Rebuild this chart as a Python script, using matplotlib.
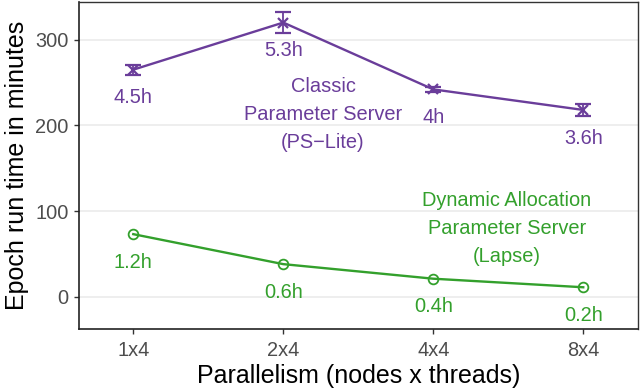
import numpy as np
import matplotlib
matplotlib.use("Agg")
import matplotlib.pyplot as plt

## Data
configs = ["1x4", "2x4", "4x4", "8x4"]
ps_lite = [265, 320, 242, 218]
ps_lite_err = [6, 12, 3, 7]
ps_lite_labels = ["4.5h", "5.3h", "4h", "3.6h"]
lapse = [73, 38, 21, 11]
lapse_labels = ["1.2h", "0.6h", "0.4h", "0.2h"]

purple = "#6a3d9a"
green = "#33a02c"

plt.rcParams["font.family"] = ["Liberation Sans", "DejaVu Sans"]

fig = plt.figure(figsize=(6.4, 3.91), dpi=100)
ax = fig.add_axes([0.1234, 0.1586, 0.8730, 0.8363])

x = np.arange(len(configs))

# Classic PS
ax.errorbar(x, ps_lite, yerr=ps_lite_err, color=purple, lw=1.7,
            marker="x", ms=7.5, mew=1.6, capsize=5.5, capthick=1.3,
            elinewidth=1.3, zorder=3)
# Lapse
ax.plot(x, lapse, color=green, lw=1.7, marker="o", ms=7,
        mfc="none", mew=1.3, zorder=3)

off = 33
fs = 14.4
for xi, v, lab in zip(x, ps_lite, ps_lite_labels):
    ax.text(xi, v - off, lab, color=purple, fontsize=fs,
            ha="center", va="center")
for xi, v, lab in zip(x, lapse, lapse_labels):
    ax.text(xi, v - off, lab, color=green, fontsize=fs,
            ha="center", va="center")

ax.text(1.265, 213, "Classic\nParameter Server\n(PS\u2212Lite)", color=purple,
        fontsize=fs, ha="center", va="center", linespacing=1.6)
ax.text(2.49, 80, "Dynamic Allocation\nParameter Server\n(Lapse)", color=green,
        fontsize=fs, ha="center", va="center", linespacing=1.6)

ax.set_xlim(-0.362, 3.363)
ax.set_ylim(-37.7, 344)
ax.set_xticks(x)
ax.set_xticklabels(configs)
ax.set_yticks([0, 100, 200, 300])

ax.yaxis.grid(True, color="#EBEBEB", lw=1.2)
ax.set_axisbelow(True)

for s in ["top", "right"]:
    ax.spines[s].set_color("#333333")
    ax.spines[s].set_linewidth(1.0)
for s in ["left", "bottom"]:
    ax.spines[s].set_color("#222222")
    ax.spines[s].set_linewidth(1.2)

ax.tick_params(axis="both", colors="#333333", labelcolor="#4D4D4D",
               labelsize=fs, length=3.8, width=1.0)
ax.tick_params(axis="x", pad=5)

ax.set_xlabel("Parallelism (nodes x threads)", fontsize=18, labelpad=3)
ax.set_ylabel("Epoch run time in minutes", fontsize=18, labelpad=5)

fig.savefig("out.png", dpi=100)
